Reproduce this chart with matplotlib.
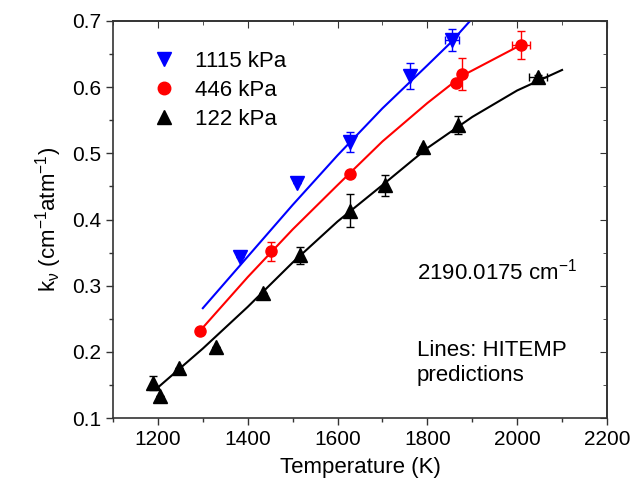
import matplotlib
matplotlib.use("Agg")
import matplotlib.pyplot as plt
from matplotlib.lines import Line2D
from matplotlib.ticker import MultipleLocator, AutoMinorLocator

plt.rcParams['font.family'] = ['Liberation Sans', 'DejaVu Sans']
plt.rcParams['mathtext.default'] = 'regular'

# measured points (T in K, k in cm-1 atm-1)
t_1115 = [1383, 1510, 1628, 1761, 1855]
k_1115 = [0.343, 0.455, 0.517, 0.617, 0.671]
ey_1115 = [0, 0, 0.015, 0.020, 0.017]
ex_1115 = [0, 0, 0, 0, 15]

t_446 = [1294, 1452, 1628, 1864, 1877, 2009]
k_446 = [0.232, 0.352, 0.469, 0.606, 0.620, 0.664]
ey_446 = [0, 0.014, 0, 0, 0.024, 0.021]
ex_446 = [0, 0, 0, 0, 0, 20]

t_122 = [1189, 1205, 1247, 1329, 1434, 1516, 1628, 1706, 1790, 1868, 2047]
k_122 = [0.153, 0.133, 0.176, 0.207, 0.289, 0.346, 0.413, 0.452, 0.510, 0.543, 0.615]
ey_122 = [0.010, 0, 0, 0, 0, 0.013, 0.025, 0.016, 0, 0.014, 0.004]
ex_122 = [0, 0, 0, 0, 0, 0, 0, 0, 0, 0, 20]

# HITEMP prediction lines
lt_1115 = [1300, 1400, 1500, 1600, 1700, 1800, 1850, 1895]
lk_1115 = [0.266, 0.344, 0.422, 0.497, 0.568, 0.633, 0.666, 0.700]
lt_446 = [1294, 1400, 1500, 1600, 1700, 1800, 1877, 1950, 2009]
lk_446 = [0.232, 0.313, 0.385, 0.452, 0.518, 0.576, 0.617, 0.643, 0.664]
lt_122 = [1198, 1300, 1400, 1500, 1600, 1700, 1800, 1900, 2000, 2100]
lk_122 = [0.145, 0.205, 0.268, 0.335, 0.397, 0.452, 0.508, 0.555, 0.595, 0.626]

fig, ax = plt.subplots(figsize=(6.44, 4.94), dpi=100)
fig.subplots_adjust(left=0.1755, right=0.9425, top=0.9575, bottom=0.1538)

ax.plot(lt_1115, lk_1115, color='blue', lw=1.5)
ax.plot(lt_446, lk_446, color='red', lw=1.5)
ax.plot(lt_122, lk_122, color='black', lw=1.5)

ax.errorbar(t_1115, k_1115, yerr=ey_1115, xerr=ex_1115, fmt='v', color='blue',
            ms=10, capsize=3, elinewidth=1)
ax.errorbar(t_446, k_446, yerr=ey_446, xerr=ex_446, fmt='o', color='red',
            ms=8, capsize=3, elinewidth=1)
ax.errorbar(t_122, k_122, yerr=ey_122, xerr=ex_122, fmt='^', color='black',
            ms=10, capsize=3, elinewidth=1)

ax.set_xlim(1100, 2200)
ax.set_ylim(0.1, 0.7)
ax.xaxis.set_major_locator(MultipleLocator(200))
ax.xaxis.set_minor_locator(AutoMinorLocator(2))
ax.yaxis.set_major_locator(MultipleLocator(0.1))
ax.yaxis.set_minor_locator(AutoMinorLocator(2))
ax.tick_params(which='both', direction='out', labelsize=15, width=1, color='#333333')
ax.tick_params(which='major', length=5)
ax.tick_params(which='minor', length=3)
for sp in ax.spines.values():
    sp.set_linewidth(1.2)
    sp.set_color('#333333')

# inward ticks on top and right
top = ax.secondary_xaxis('top')
top.xaxis.set_major_locator(MultipleLocator(200))
top.xaxis.set_minor_locator(AutoMinorLocator(2))
top.tick_params(which='both', direction='in', labeltop=False, color='#333333')
top.tick_params(which='major', length=5)
top.tick_params(which='minor', length=3)
top.spines['top'].set_linewidth(1.2)
top.spines['top'].set_color('#333333')
right = ax.secondary_yaxis('right')
right.yaxis.set_major_locator(MultipleLocator(0.1))
right.yaxis.set_minor_locator(AutoMinorLocator(2))
right.tick_params(which='both', direction='in', labelright=False, color='#333333')
right.tick_params(which='major', length=5)
right.tick_params(which='minor', length=3)
right.spines['right'].set_linewidth(1.2)
right.spines['right'].set_color('#333333')

ax.set_xlabel('Temperature (K)', fontsize=16, labelpad=6)
ax.set_ylabel(r'k$_\nu$ (cm$^{-1}$atm$^{-1}$)', fontsize=16, labelpad=6)

handles = [
    Line2D([], [], ls='none', marker='v', ms=10, color='blue'),
    Line2D([], [], ls='none', marker='o', ms=9, color='red'),
    Line2D([], [], ls='none', marker='^', ms=10, color='black'),
]
ax.legend(handles, ['1115 kPa', '446 kPa', '122 kPa'], loc='upper left',
          bbox_to_anchor=(0.063, 0.952), frameon=False, fontsize=16,
          handlelength=0.8, handletextpad=1.0, labelspacing=0.35, borderpad=0)

ax.text(0.615, 0.368, r'2190.0175 cm$^{-1}$', transform=ax.transAxes,
        fontsize=16, va='center')
ax.text(0.615, 0.139, 'Lines: HITEMP\npredictions', transform=ax.transAxes,
        fontsize=16, va='center', linespacing=1.25)

fig.savefig('out.png')
